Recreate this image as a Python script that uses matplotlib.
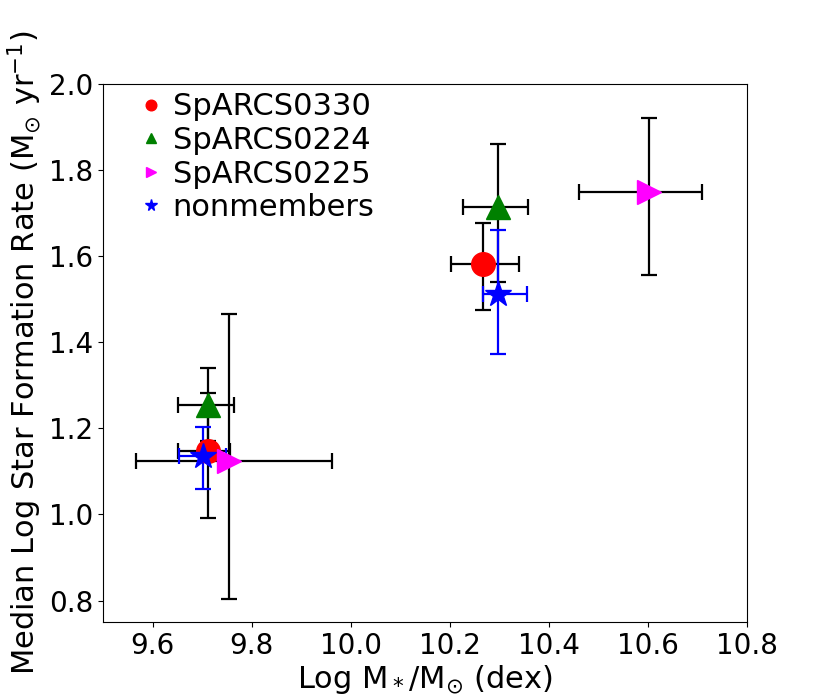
import numpy as np
import matplotlib
matplotlib.use("Agg")
import matplotlib.pyplot as plt

# median values per sample: two mass bins each
labels = ["SpARCS0330", "SpARCS0224", "SpARCS0225", "nonmembers"]

mass = {
    "SpARCS0330": [9.712, 10.266],
    "SpARCS0224": [9.712, 10.297],
    "SpARCS0225": [9.755, 10.602],
    "nonmembers": [9.701, 10.298],
}
mass_lo = {
    "SpARCS0330": [0.061, 0.064],
    "SpARCS0224": [0.061, 0.071],
    "SpARCS0225": [0.189, 0.142],
    "nonmembers": [0.048, 0.032],
}
mass_hi = {
    "SpARCS0330": [0.044, 0.074],
    "SpARCS0224": [0.053, 0.060],
    "SpARCS0225": [0.208, 0.107],
    "nonmembers": [0.048, 0.057],
}
sfr = {
    "SpARCS0330": [1.147, 1.582],
    "SpARCS0224": [1.255, 1.713],
    "SpARCS0225": [1.124, 1.749],
    "nonmembers": [1.135, 1.513],
}
sfr_lo = {
    "SpARCS0330": [0.155, 0.108],
    "SpARCS0224": [0.085, 0.173],
    "SpARCS0225": [0.321, 0.192],
    "nonmembers": [0.075, 0.140],
}
sfr_hi = {
    "SpARCS0330": [0.134, 0.094],
    "SpARCS0224": [0.085, 0.148],
    "SpARCS0225": [0.342, 0.172],
    "nonmembers": [0.068, 0.148],
}

colors = {"SpARCS0330": "red", "SpARCS0224": "green",
          "SpARCS0225": "magenta", "nonmembers": "blue"}
markers = {"SpARCS0330": "o", "SpARCS0224": "^",
           "SpARCS0225": ">", "nonmembers": "*"}
ecolors = {"SpARCS0330": "black", "SpARCS0224": "black",
           "SpARCS0225": "black", "nonmembers": "blue"}

fig = plt.figure(figsize=(8.31, 6.99), dpi=100)
ax = fig.add_axes([0.124, 0.110, 0.775, 0.770])

for name in labels:
    ax.errorbar(mass[name], sfr[name],
                xerr=[mass_lo[name], mass_hi[name]],
                yerr=[sfr_lo[name], sfr_hi[name]],
                fmt=markers[name], color=colors[name], ecolor=ecolors[name],
                ms=17 if markers[name] != "*" else 19, mec=colors[name],
                elinewidth=1.6, capsize=6, capthick=1.6, label=name)

ax.set_xlim(9.5, 10.8)
ax.set_ylim(0.75, 2.0)
ax.set_xticks(np.arange(9.6, 10.81, 0.2))
ax.set_yticks(np.arange(0.8, 2.01, 0.2))
ax.tick_params(labelsize=20)
ax.set_xlabel(r"Log M$_*$/M$_{\odot}$ (dex)", fontsize=22, labelpad=2)
ax.set_ylabel(r"Median Log Star Formation Rate (M$_{\odot}$ yr$^{-1}$)", fontsize=22)

h, l = ax.get_legend_handles_labels()
h = [x[0] for x in h]
leg = ax.legend(h, l, loc="upper left", frameon=False, fontsize=22,
                markerscale=0.45, handlelength=0.7, handletextpad=0.35,
                labelspacing=0.15, borderaxespad=0.4, borderpad=0.3,
                bbox_to_anchor=(0.025, 1.024))

fig.savefig("out.png", dpi=100)
